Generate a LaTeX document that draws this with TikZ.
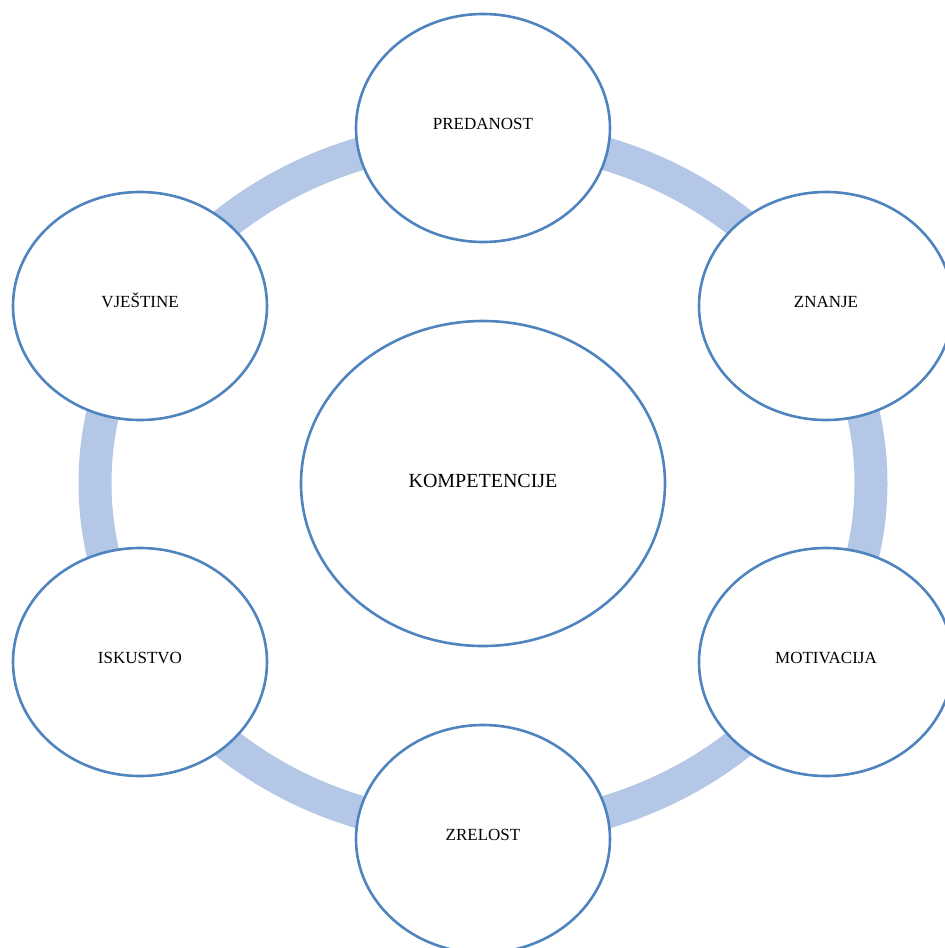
\documentclass[tikz,border=0pt]{standalone}
\usepackage{fontspec}
\setmainfont{Liberation Serif}
\usetikzlibrary{shapes.geometric}
\definecolor{ringblue}{HTML}{B4C7E7}
\definecolor{edgeblue}{HTML}{4F84BF}
\tikzset{
  outerell/.style={ellipse, draw=edgeblue, line width=2.6pt, fill=white,
    minimum width=254pt, minimum height=228pt, inner sep=0pt,
    text height=11.3pt, text depth=0pt, font=\fontsize{17}{20}\selectfont},
  centerell/.style={ellipse, draw=edgeblue, line width=2.6pt, fill=white,
    minimum width=364pt, minimum height=325pt, inner sep=0pt, font=\fontsize{20}{24}\selectfont},
}
\begin{document}
\begin{tikzpicture}[x=1pt,y=-1pt]
\useasboundingbox (0,0) rectangle (945,948);
\coordinate (c) at (483,483);
\draw[ringblue, line width=33pt] (c) ellipse [x radius=388, y radius=347];
\node[centerell] (komp) at (483,483.5) {\raisebox{5pt}{KOMPETENCIJE}};
\node[outerell] (pred) at (483,128) {\raisebox{4pt}{PREDANOST}};
\node[outerell] (znan) at (826,306) {\raisebox{4pt}{ZNANJE}};
\node[outerell] (moti) at (826,662) {\raisebox{4pt}{MOTIVACIJA}};
\node[outerell] (zrel) at (483,839) {\raisebox{4pt}{ZRELOST}};
\node[outerell] (isku) at (140,662) {\raisebox{4pt}{ISKUSTVO}};
\node[outerell] (vjes) at (140,306) {\raisebox{4pt}{VJEŠTINE}};
\end{tikzpicture}
\end{document}
